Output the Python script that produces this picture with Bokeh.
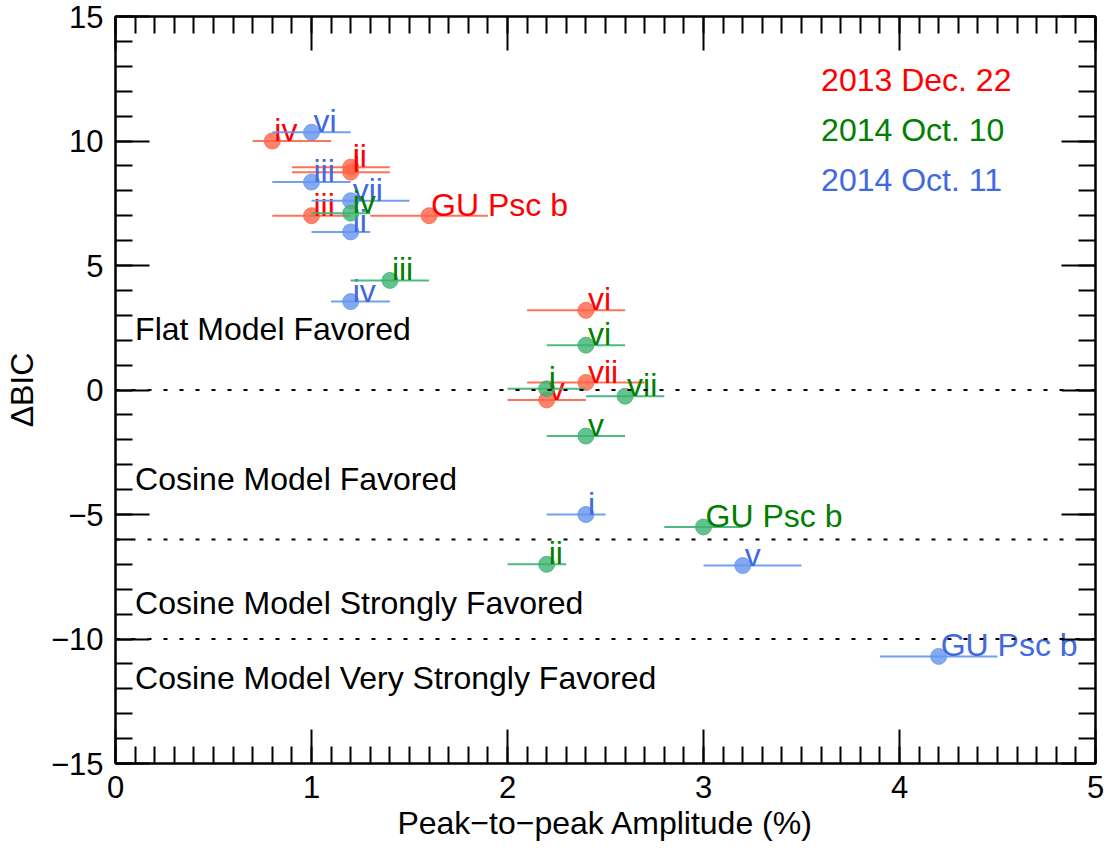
from bokeh.plotting import figure
from bokeh.models import Range1d, FixedTicker, LinearAxis, Span, ColumnDataSource
from bokeh.embed import file_html
from bokeh.resources import INLINE
from bokeh.core.properties import value

# ---- data: peak-to-peak amplitude (%) with its range, and Delta BIC ----
labels = ["i", "ii", "iii", "iv", "v", "vi", "vii", "GU Psc b"]

dec22_amp = [1.2, 1.2, 1.0, 0.8, 2.2, 2.4, 2.4, 1.6]
dec22_lo = [0.9, 0.9, 0.8, 0.7, 2.0, 2.1, 2.1, 1.3]
dec22_hi = [1.4, 1.4, 1.2, 1.1, 2.4, 2.6, 2.7, 1.9]
dec22_dbic = [8.75, 8.95, 7.0, 10.0, -0.4, 3.2, 0.3, 7.0]

oct11_amp = [2.4, 1.2, 1.0, 1.2, 3.2, 1.0, 1.2, 4.2]
oct11_lo = [2.2, 1.0, 0.8, 1.1, 3.0, 0.8, 1.0, 3.9]
oct11_hi = [2.5, 1.3, 1.2, 1.4, 3.5, 1.2, 1.5, 4.5]
oct11_dbic = [-5.0, 6.35, 8.35, 3.55, -7.05, 10.35, 7.6, -10.7]

oct10_amp = [2.2, 2.2, 1.4, 1.2, 2.4, 2.4, 2.6, 3.0]
oct10_lo = [2.0, 2.0, 1.2, 1.0, 2.2, 2.2, 2.4, 2.8]
oct10_hi = [2.4, 2.3, 1.6, 1.3, 2.6, 2.6, 2.8, 3.2]
oct10_dbic = [0.05, -7.0, 4.4, 7.1, -1.85, 1.8, -0.25, -5.5]

# epoch key
epoch_names = ["2013 Dec. 22", "2014 Oct. 10", "2014 Oct. 11"]
epoch_text_colors = ["#FF0000", "#008000", "#4169E1"]
key_x = 3.6
key_y = [12.0, 10.0, 8.0]

# model-preference thresholds and region captions
thresholds = [0, -6, -10]
region_names = ["Flat Model Favored", "Cosine Model Favored",
                "Cosine Model Strongly Favored", "Cosine Model Very Strongly Favored"]
region_x = 0.1
region_y = [2.0, -4.0, -9.0, -12.0]

x_major = [0, 1, 2, 3, 4, 5]
x_minor = [i / 10 for i in range(0, 51)]
y_major = [-15, -10, -5, 0, 5, 10, 15]
y_minor = list(range(-15, 16))
y_tick_text = {-15: "\u221215", -10: "\u221210", -5: "\u22125", 0: "0", 5: "5", 10: "10", 15: "15"}

FONT = "Liberation Sans"
FS = "32px"
RAISE = -11  # lift text so its baseline sits on the anchor point

p = figure(width=1111, height=851,
           x_range=Range1d(0, 5), y_range=Range1d(-15, 15),
           output_backend="svg", toolbar_location=None,
           min_border_left=114, min_border_right=16,
           min_border_top=16, min_border_bottom=88,
           x_axis_label="Peak\u2212to\u2212peak Amplitude (%)",
           y_axis_label="\u0394BIC")
p.grid.visible = False
p.outline_line_color = "black"
p.outline_line_width = 2
p.background_fill_color = "white"
p.border_fill_color = "white"


def style_axis(ax, ticks, minor, show_labels):
    ax.ticker = FixedTicker(ticks=ticks, minor_ticks=minor)
    ax.axis_line_width = 2
    ax.axis_line_color = "black"
    ax.major_tick_line_width = 2
    ax.minor_tick_line_width = 2
    ax.major_tick_in = 34
    ax.major_tick_out = 0
    ax.minor_tick_in = 17
    ax.minor_tick_out = 0
    ax.major_label_text_font = FONT
    ax.major_label_text_color = "black"
    ax.axis_label_text_font = FONT
    ax.axis_label_text_font_size = FS
    ax.axis_label_text_font_style = "normal"
    ax.axis_label_text_color = "black"
    ax.major_label_text_font_size = "31px"
    if show_labels:
        ax.major_label_standoff = 12
    else:
        # mirrored frame axis: ticks only
        ax.major_label_overrides = {t: "" for t in ticks}
        ax.major_label_standoff = 0


style_axis(p.xaxis[0], x_major, x_minor, True)
style_axis(p.yaxis[0], y_major, y_minor, True)
p.yaxis[0].major_label_overrides = y_tick_text
p.xaxis[0].axis_label_standoff = 4
p.yaxis[0].axis_label_standoff = 8

top_axis = LinearAxis()
style_axis(top_axis, x_major, x_minor, False)
p.add_layout(top_axis, "above")
right_axis = LinearAxis()
style_axis(right_axis, y_major, y_minor, False)
p.add_layout(right_axis, "right")

# dotted threshold lines
for t in thresholds:
    p.add_layout(Span(location=t, dimension="width", line_color="black",
                      line_width=2, line_dash="4 12"))

epochs = [
    (dec22_amp, dec22_lo, dec22_hi, dec22_dbic, "#FF6347", "#FF0000"),
    (oct11_amp, oct11_lo, oct11_hi, oct11_dbic, "#6495ED", "#4169E1"),
    (oct10_amp, oct10_lo, oct10_hi, oct10_dbic, "#3CB371", "#008000"),
]

for amp, lo, hi, dbic, mark_color, text_color in epochs:
    src = ColumnDataSource(dict(amp=amp, lo=lo, hi=hi, dbic=dbic, label=labels))
    p.segment(x0="lo", x1="hi", y0="dbic", y1="dbic", source=src,
              line_color=mark_color, line_width=2, line_alpha=0.9)
    p.scatter(x="amp", y="dbic", source=src, size=16, marker="circle",
              fill_color=mark_color, fill_alpha=0.8,
              line_color=mark_color, line_alpha=0.8)
    p.text(x="amp", y="dbic", text="label", source=src, x_offset=2, y_offset=RAISE,
           text_color=text_color, text_font=value(FONT), text_font_size=FS,
           text_baseline="alphabetic", text_align="left")

# epoch key
key_src = ColumnDataSource(dict(x=[key_x] * len(epoch_names), y=key_y,
                                name=epoch_names, color=epoch_text_colors))
p.text(x="x", y="y", text="name", text_color="color", source=key_src, y_offset=RAISE,
       text_font=value(FONT), text_font_size=FS, text_baseline="alphabetic")

# region captions
reg_src = ColumnDataSource(dict(x=[region_x] * len(region_names), y=region_y, name=region_names))
p.text(x="x", y="y", text="name", source=reg_src, text_color="black", y_offset=RAISE,
       text_font=value(FONT), text_font_size=FS, text_baseline="alphabetic")

open("out.html", "w").write(file_html(p, INLINE))
